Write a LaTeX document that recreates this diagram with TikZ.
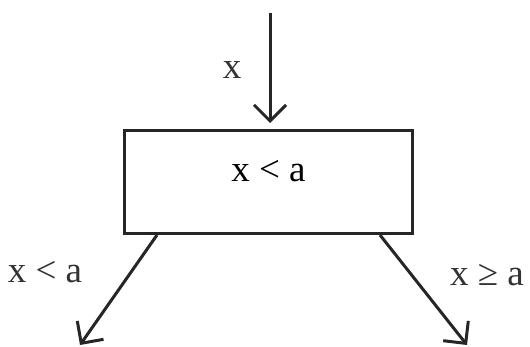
\documentclass[tikz,border=0pt]{standalone}
\usepackage{fontspec}
\setmainfont{Liberation Serif}
\usepackage{tikz}
\usetikzlibrary{positioning}
\usetikzlibrary{arrows.meta}

\begin{document}
\begin{tikzpicture}[
  x=1pt, y=-1pt,
  test/.style={
    rectangle,
    draw=black!85,
    line width=3pt,
    minimum width=288pt,
    minimum height=103pt,
    text depth=22pt,
    font=\fontsize{37}{42}\selectfont
  },
  lbl/.style={font=\fontsize{37}{42}\selectfont, text=black!80},
  arr/.style={-{Straight Barb[length=16pt, width=32pt, line width=3pt]}, line width=3pt, black!85}
]
\useasboundingbox (0,0) rectangle (530,347);

% Test box
\node[test] (cond) at (268.5, 182) {x < a};

% Free ends
\coordinate (in)    at (270, 13);
\coordinate (yes)   at (80, 345);
\coordinate (no)    at (467, 345);
\coordinate (lout)  at (157, 235);
\coordinate (rout)  at (380, 235);

% Arrows
\draw[arr, shorten >=6pt] (in) -- (in |- cond.north);
\draw[arr] (lout) -- (yes);
\draw[arr] (rout) -- (no);

% Labels
\node[lbl] (xin)  at (232, 70)  {x};
\node[lbl] (ylbl) at (45, 272)  {x < a};
\node[lbl] (nlbl) at (487, 275) {x ≥ a};

\end{tikzpicture}
\end{document}
